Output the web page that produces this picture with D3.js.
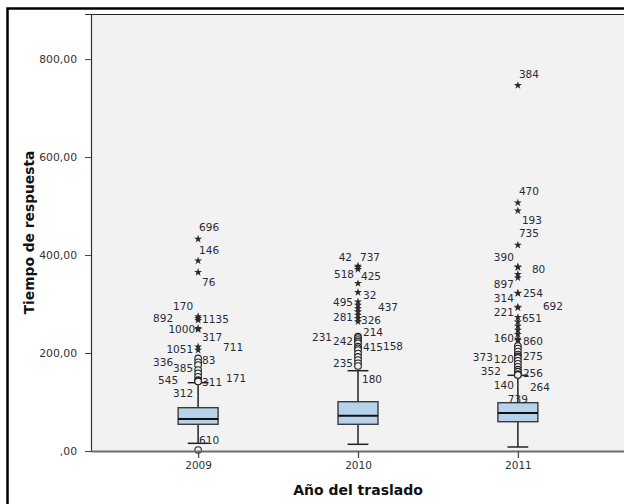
<!DOCTYPE html>
<html>
<head>
<meta charset="utf-8">
<script src="https://cdn.jsdelivr.net/npm/d3@7"></script>
<style>
  html, body { margin: 0; padding: 0; background: #fff; }
  svg { display: block; }
</style>
</head>
<body>
<svg id="chart" width="624" height="504"></svg>
<script>
// Response time by transfer year: box summaries
const years = ["2009", "2010", "2011"];
const q1 = [54.5, 54.5, 59.8];
const medians = [65.3, 72.0, 77.6];
const q3 = [88.4, 100.6, 98.6];
const whiskerLow = [15.7, 13.7, 8.2];
const whiskerHigh = [139.4, 163.9, 154.5];

const yTicks = [0, 200, 400, 600, 800];
const yTickLabels = [",00", "200,00", "400,00", "600,00", "800,00"];

// Outliers: case number (empty when unlabeled), value, type ("o" = outlier, "*" = extreme)
const outliers2009 = [
  {id: "696", v: 432.7, t: "*"}, {id: "146", v: 388.4, t: "*"}, {id: "76", v: 364.7, t: "*"},
  {id: "170", v: 274.6, t: "*"}, {id: "1135", v: 270.8, t: "*"}, {id: "892", v: 267.0, t: "*"},
  {id: "1000", v: 250.4, t: "*"}, {id: "317", v: 248.0, t: "*"},
  {id: "711", v: 212.9, t: "*"}, {id: "1051", v: 206.0, t: "*"},
  {id: "83", v: 189.0, t: "o"}, {id: "336", v: 181.0, t: "o"}, {id: "385", v: 175.5, t: "o"},
  {id: "", v: 165.3, t: "o"}, {id: "", v: 158.6, t: "o"}, {id: "171", v: 151.6, t: "o"},
  {id: "545", v: 144.9, t: "o"}, {id: "311", v: 143.0, t: "o"}, {id: "312", v: 142.0, t: "o"},
  {id: "610", v: 2.0, t: "o"}
];
const outliers2010 = [
  {id: "42", v: 377.5, t: "*"}, {id: "737", v: 374.9, t: "*"}, {id: "518", v: 371.0, t: "*"},
  {id: "425", v: 342.2, t: "*"}, {id: "32", v: 323.9, t: "*"},
  {id: "495", v: 304.7, t: "*"}, {id: "437", v: 297.9, t: "*"}, {id: "", v: 291.0, t: "*"},
  {id: "", v: 284.4, t: "*"}, {id: "281", v: 277.6, t: "*"}, {id: "326", v: 270.7, t: "*"},
  {id: "", v: 264.0, t: "*"},
  {id: "214", v: 233.3, t: "o"}, {id: "231", v: 230.6, t: "o"}, {id: "242", v: 226.5, t: "o"},
  {id: "", v: 223.0, t: "o"}, {id: "", v: 219.7, t: "o"}, {id: "415", v: 213.0, t: "o"},
  {id: "158", v: 209.5, t: "o"}, {id: "", v: 206.0, t: "o"}, {id: "", v: 199.0, t: "o"},
  {id: "", v: 192.0, t: "o"}, {id: "", v: 185.5, t: "o"}, {id: "235", v: 179.0, t: "o"},
  {id: "180", v: 173.5, t: "o"}
];
const outliers2011 = [
  {id: "384", v: 746.3, t: "*"}, {id: "470", v: 506.7, t: "*"}, {id: "193", v: 490.4, t: "*"},
  {id: "735", v: 420.4, t: "*"}, {id: "390", v: 376.0, t: "*"}, {id: "80", v: 375.0, t: "*"},
  {id: "897", v: 360.6, t: "*"}, {id: "", v: 353.7, t: "*"},
  {id: "314", v: 321.8, t: "*"}, {id: "254", v: 322.5, t: "*"},
  {id: "221", v: 292.5, t: "*"}, {id: "692", v: 294.0, t: "*"},
  {id: "651", v: 272.8, t: "*"}, {id: "", v: 263.9, t: "*"}, {id: "", v: 255.1, t: "*"},
  {id: "", v: 246.9, t: "*"}, {id: "", v: 238.2, t: "*"}, {id: "160", v: 228.6, t: "*"},
  {id: "860", v: 226.0, t: "*"},
  {id: "", v: 214.3, t: "o"}, {id: "", v: 209.0, t: "o"}, {id: "", v: 203.0, t: "o"},
  {id: "275", v: 197.0, t: "o"}, {id: "373", v: 193.0, t: "o"}, {id: "120", v: 190.0, t: "o"},
  {id: "", v: 184.0, t: "o"}, {id: "", v: 178.0, t: "o"}, {id: "", v: 172.0, t: "o"},
  {id: "352", v: 166.0, t: "o"}, {id: "256", v: 162.0, t: "o"}, {id: "", v: 157.0, t: "o"},
  {id: "140", v: 155.5, t: "o"}, {id: "264", v: 156.0, t: "o"}, {id: "739", v: 155.3, t: "o"}
];
const outliersByYear = [outliers2009, outliers2010, outliers2011];

// Case-label placement relative to its marker (px):
// dx < 0 => right-aligned on the left, dx > 0 => left-aligned on the right, dx = 0 => centred
const labelOffset = {
  "696": [1, -12], "146": [1, -10.7], "76": [4, 9.4], "170": [-5, -10], "1135": [4, 0.7],
  "892": [-25, -1.7], "1000": [-3, 1], "317": [4, 7], "711": [25, 0], "1051": [-5, -1],
  "83": [4, 2], "336": [-25, -0.6], "385": [-5, 3.3], "171": [28, 1.6], "545": [-20, 0],
  "311": [4, 0.7], "312": [-5, 12], "610": [1, -10],
  "42": [-6, -9], "737": [2, -10], "518": [-4, 5], "425": [3, -7.3], "32": [5, 2.7],
  "495": [-5, 0], "437": [20, 1.7], "281": [-5, 1.7], "326": [3, 1.6], "214": [5, -5],
  "231": [-26, -0.7], "242": [-5, 0.7], "415": [5, 0], "158": [25, -2.3], "235": [-5, 0],
  "180": [4, 13],
  "384": [1, -11], "470": [1, -12], "193": [4, 9.3], "735": [1, -11.7], "390": [-4, -9.4],
  "80": [14, 1.6], "897": [-4, 9.7], "314": [-4, 5], "254": [5, 0], "221": [-4, 4],
  "692": [25, -1], "651": [4, 1], "160": [-4, -1.3], "860": [5, 0.7], "275": [5, 1.5],
  "373": [-25, 1], "120": [-4, 1], "352": [-17, 1.3], "256": [5, 1.7], "140": [-4, 10],
  "264": [12, 12], "739": [0, 24.5]
};

const svg = d3.select("#chart");
const plot = {left: 91, right: 625, top: 14, bottom: 451};

const x = d3.scalePoint().domain(years).range([plot.left, plot.right]).padding(0.67);
const y = d3.scaleLinear().domain([0, 892]).range([plot.bottom, plot.top]);

const boxW = x.step() * 0.25;
const capW = x.step() * 0.13;

// outer frame
svg.append("rect")
  .attr("x", 7.5).attr("y", 8.5).attr("width", 700).attr("height", 600)
  .attr("fill", "#fff").attr("stroke", "#000").attr("stroke-width", 2.5);

// plot background
svg.append("rect")
  .attr("x", plot.left).attr("y", plot.top)
  .attr("width", plot.right - plot.left).attr("height", plot.bottom - plot.top)
  .attr("fill", "#f2f2f2");
svg.append("line")
  .attr("x1", plot.left).attr("x2", plot.right + 10)
  .attr("y1", plot.top + 0.5).attr("y2", plot.top + 0.5)
  .attr("stroke", "#222").attr("stroke-width", 1);

const g = svg.append("g");
const stats = years.map((yr, i) => ({
  yr, q1: q1[i], med: medians[i], q3: q3[i], lo: whiskerLow[i], hi: whiskerHigh[i]
}));

const groups = g.selectAll("g.box").data(stats).join("g").attr("class", "box");

// whisker stems
groups.append("line")
  .attr("x1", d => x(d.yr)).attr("x2", d => x(d.yr))
  .attr("y1", d => y(d.hi)).attr("y2", d => y(d.lo))
  .attr("stroke", "#222").attr("stroke-width", 1.5);
// caps
groups.selectAll("line.cap").data(d => [d.lo, d.hi].map(v => ({yr: d.yr, v})))
  .join("line").attr("class", "cap")
  .attr("x1", d => x(d.yr) - capW / 2).attr("x2", d => x(d.yr) + capW / 2)
  .attr("y1", d => y(d.v)).attr("y2", d => y(d.v))
  .attr("stroke", "#222").attr("stroke-width", 1.5);
// boxes
groups.append("rect")
  .attr("x", d => x(d.yr) - boxW / 2).attr("width", boxW)
  .attr("y", d => y(d.q3)).attr("height", d => y(d.q1) - y(d.q3))
  .attr("fill", "#b7d3ec").attr("stroke", "#3a3a3a").attr("stroke-width", 1.4);
// medians
groups.append("line")
  .attr("x1", d => x(d.yr) - boxW / 2).attr("x2", d => x(d.yr) + boxW / 2)
  .attr("y1", d => y(d.med)).attr("y2", d => y(d.med))
  .attr("stroke", "#111").attr("stroke-width", 2.2);

// outlier markers and case labels
const star = d3.symbol().type(d3.symbolStar).size(20);
years.forEach((yr, i) => {
  const pts = outliersByYear[i];
  const cx = x(yr);
  const og = g.append("g");
  og.selectAll("circle").data(pts.filter(p => p.t === "o")).join("circle")
    .attr("cx", cx).attr("cy", d => y(d.v)).attr("r", 3.3)
    .attr("fill", "#f2f2f2").attr("stroke", "#222").attr("stroke-width", 1.1);
  og.selectAll("path").data(pts.filter(p => p.t === "*")).join("path")
    .attr("d", star)
    .attr("transform", d => `translate(${cx},${y(d.v)})`)
    .attr("fill", "#2a2a2a");
  og.selectAll("text").data(pts.filter(p => p.id !== "")).join("text")
    .attr("x", d => cx + labelOffset[d.id][0])
    .attr("y", d => y(d.v) + labelOffset[d.id][1])
    .attr("text-anchor", d => {
      const dx = labelOffset[d.id][0];
      return dx < 0 ? "end" : dx > 0 ? "start" : "middle";
    })
    .attr("dominant-baseline", "central")
    .attr("font-family", "DejaVu Sans, sans-serif")
    .attr("font-size", 10.5)
    .attr("fill", "#2a2a38")
    .text(d => d.id);
});

// y axis
const yAxis = d3.axisLeft(y).tickValues(yTicks)
  .tickFormat((d, i) => yTickLabels[i]).tickSize(6).tickPadding(8);
const ya = svg.append("g").attr("transform", `translate(${plot.left},0)`).call(yAxis);
ya.select(".domain").attr("stroke", "#333").attr("stroke-width", 1.2);
ya.selectAll(".tick line").attr("stroke", "#444");
ya.selectAll("text").attr("font-family", "DejaVu Sans, sans-serif")
  .attr("font-size", 10.8).attr("fill", "#333");

// x axis
const xAxis = d3.axisBottom(x).tickSize(7).tickPadding(4).tickSizeOuter(0);
const xa = svg.append("g").attr("transform", `translate(0,${plot.bottom})`).call(xAxis);
xa.select(".domain").attr("stroke", "#6e6e6e").attr("stroke-width", 2.2);
xa.selectAll(".tick line").attr("stroke", "#555").attr("stroke-width", 1.4);
xa.selectAll("text").attr("font-family", "DejaVu Sans, sans-serif")
  .attr("font-size", 10.5).attr("fill", "#333");

// axis titles
svg.append("text")
  .attr("x", (plot.left + plot.right) / 2).attr("y", 490)
  .attr("text-anchor", "middle").attr("dominant-baseline", "central")
  .attr("font-family", "DejaVu Sans, sans-serif").attr("font-weight", "bold")
  .attr("font-size", 14).attr("fill", "#111")
  .text("Año del traslado");
svg.append("text")
  .attr("transform", `translate(29,${(plot.top + plot.bottom) / 2}) rotate(-90)`)
  .attr("text-anchor", "middle").attr("dominant-baseline", "central")
  .attr("font-family", "DejaVu Sans, sans-serif").attr("font-weight", "bold")
  .attr("font-size", 13.8).attr("fill", "#111")
  .text("Tiempo de respuesta");
</script>
</body>
</html>
